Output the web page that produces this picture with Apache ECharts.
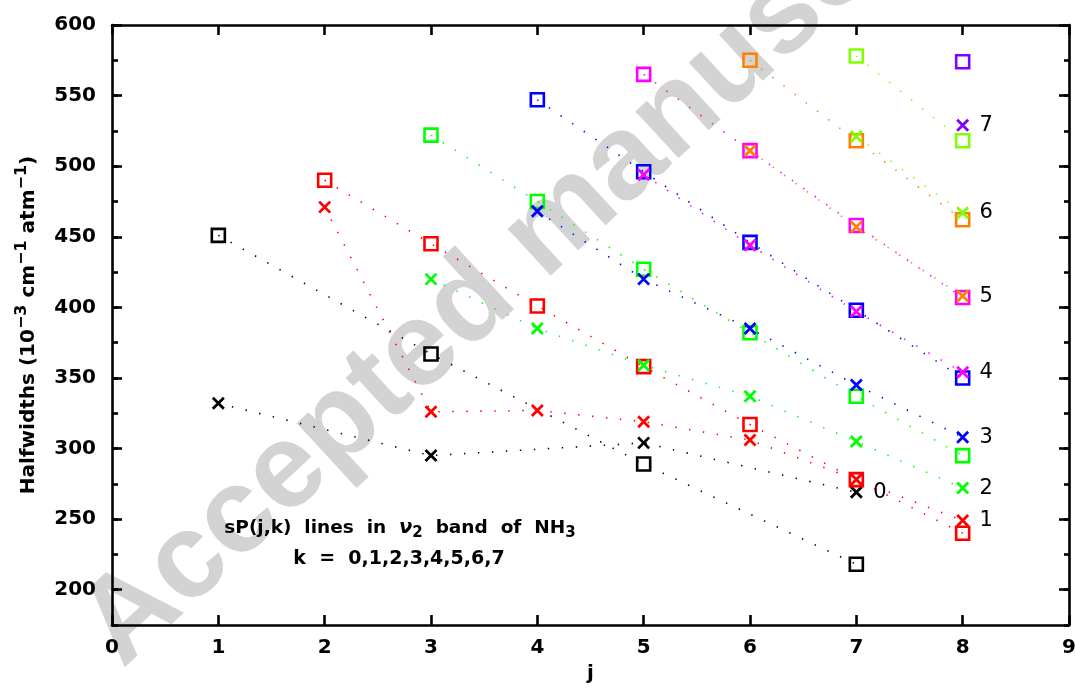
<!DOCTYPE html>
<html>
<head>
<meta charset="utf-8">
<script src="https://cdn.jsdelivr.net/npm/echarts@6/dist/echarts.min.js"></script>
<style>
  html, body { margin: 0; padding: 0; background: #ffffff; }
  #chart { width: 1075px; height: 688px; }
</style>
</head>
<body>
<div id="chart"></div>
<script>
// Halfwidths (1e-3 cm-1 atm-1) of sP(j,k) lines, nu2 band of NH3.
// Each pair is [j, halfwidth]; "box" points are drawn as squares, "cross" points as x marks.
const boxK0   = [[1, 451], [3, 367], [5, 289], [7, 218]];
const crossK0 = [[1, 332], [3, 295], [5, 304], [7, 269]];
const boxK1   = [[2, 490], [3, 445], [4, 401], [5, 358], [6, 317], [7, 278], [8, 240]];
const crossK1 = [[2, 471], [3, 326], [4, 327], [5, 319], [6, 306], [7, 278], [8, 249]];
const boxK2   = [[3, 522], [4, 475], [5, 427], [6, 382], [7, 337], [8, 295]];
const crossK2 = [[3, 420], [4, 385], [5, 359], [6, 337], [7, 305], [8, 272]];
const boxK3   = [[4, 547], [5, 496], [6, 446], [7, 398], [8, 350]];
const crossK3 = [[4, 468], [5, 420], [6, 385], [7, 345], [8, 308]];
const boxK4   = [[5, 565], [6, 511], [7, 458], [8, 407]];
const crossK4 = [[5, 494], [6, 444], [7, 397], [8, 354]];
const boxK5   = [[6, 575], [7, 518], [8, 462]];
const crossK5 = [[6, 511], [7, 457], [8, 408]];
const boxK6   = [[7, 578], [8, 518]];
const crossK6 = [[7, 521], [8, 467]];
const boxK7   = [[8, 574]];
const crossK7 = [[8, 529]];

const kLabels = ['0', '1', '2', '3', '4', '5', '6', '7'];
const yMajorTicks = [200, 250, 300, 350, 400, 450, 500, 550, 600];

const boxSets = [boxK0, boxK1, boxK2, boxK3, boxK4, boxK5, boxK6, boxK7];
const crossSets = [crossK0, crossK1, crossK2, crossK3, crossK4, crossK5, crossK6, crossK7];

// one colour per k
const kColors = ['#000000', '#ff0000', '#00ff00', '#0000ff', '#ff00ff', '#ff8000', '#80ff00', '#8000ff'];

const FONT = '"DejaVu Sans", sans-serif';
const CROSS = 'path://M0 0L10 10M10 0L0 10';

function dotted(color) {
  return { color: color, width: 1.6, type: [1.4, 12.6] };
}

const series = [];
kLabels.forEach(function (k, i) {
  const c = kColors[i];
  series.push({
    type: 'line',
    name: 'box k=' + k,
    data: boxSets[i],
    symbol: 'rect',
    symbolSize: 13,
    showAllSymbol: true,
    lineStyle: dotted(c),
    itemStyle: { color: 'rgba(0,0,0,0)', borderColor: c, borderWidth: 2.6 },
    emphasis: { disabled: true },
    z: 2 + i * 2
  });
  const crosses = crossSets[i];
  series.push({
    type: 'line',
    name: 'cross k=' + k,
    data: crosses,
    symbol: CROSS,
    symbolSize: 11,
    showAllSymbol: true,
    lineStyle: dotted(c),
    itemStyle: { color: 'rgba(0,0,0,0)', borderColor: c, borderWidth: 2.8 },
    label: {
      show: true,
      position: 'right',
      distance: 10,
      color: '#000',
      fontFamily: FONT,
      fontSize: 21,
      formatter: function (p) { return p.dataIndex === crosses.length - 1 ? k : ''; }
    },
    emphasis: { disabled: true },
    z: 3 + i * 2
  });
});

const axisLine = { show: true, onZero: false, lineStyle: { color: '#000', width: 2.6 } };
const tickStyle = { color: '#000', width: 2.6 };
const labelFont = { color: '#000', fontFamily: FONT, fontSize: 20, fontWeight: 'bold' };

const option = {
  animation: false,
  backgroundColor: '#ffffff',
  grid: { left: 112, right: 6, top: 25, bottom: 63, containLabel: false, outerBoundsMode: 'none' },
  xAxis: [
    {
      type: 'value', position: 'bottom', min: 0, max: 9, interval: 1,
      axisLine: axisLine,
      axisTick: { show: true, inside: true, length: 10, lineStyle: tickStyle },
      axisLabel: Object.assign({ margin: 13 }, labelFont),
      splitLine: { show: false },
      name: 'j', nameLocation: 'middle', nameGap: 39,
      nameTextStyle: { color: '#000', fontFamily: FONT, fontSize: 20, fontWeight: 'bold' }
    },
    {
      type: 'value', position: 'top', min: 0, max: 9, interval: 1,
      axisLine: axisLine,
      axisTick: { show: true, inside: true, length: 10, lineStyle: tickStyle },
      axisLabel: { show: false },
      splitLine: { show: false }
    }
  ],
  yAxis: [
    {
      type: 'value', position: 'left', min: 175, max: 600, interval: 25,
      axisLine: axisLine,
      axisTick: { show: true, inside: true, length: 10, lineStyle: tickStyle, customValues: yMajorTicks },
      axisLabel: Object.assign({ margin: 16, customValues: yMajorTicks }, labelFont),
      splitLine: { show: false },
      name: 'Halfwidths ({n|10}{sup|\u22123}{n| cm}{sup|\u22121}{n| atm}{sup|\u22121}{n|)}',
      nameLocation: 'middle', nameRotate: 90, nameGap: 68,
      nameTextStyle: {
        color: '#000', fontFamily: FONT, fontSize: 20, fontWeight: 'bold', lineHeight: 30,
        rich: {
          n: { color: '#000', fontFamily: FONT, fontSize: 20, fontWeight: 'bold', lineHeight: 30 },
          sup: { color: '#000', fontFamily: FONT, fontSize: 16, fontWeight: 'bold', lineHeight: 16, verticalAlign: 'top' }
        }
      }
    },
    {
      type: 'value', position: 'left', min: 175, max: 600, interval: 25,
      axisLine: { show: false, onZero: false },
      axisTick: { show: true, inside: true, length: 6, lineStyle: tickStyle },
      axisLabel: { show: false },
      splitLine: { show: false }
    },
    {
      type: 'value', position: 'right', min: 175, max: 600, interval: 25,
      axisLine: axisLine,
      axisTick: { show: true, inside: true, length: 10, lineStyle: tickStyle, customValues: yMajorTicks },
      axisLabel: { show: false },
      splitLine: { show: false }
    },
    {
      type: 'value', position: 'right', min: 175, max: 600, interval: 25,
      axisLine: { show: false, onZero: false },
      axisTick: { show: true, inside: true, length: 5, lineStyle: tickStyle },
      axisLabel: { show: false },
      splitLine: { show: false }
    }
  ],
  graphic: {
    elements: [
      {
        // faint diagonal stamp behind the plot
        type: 'text', z: -10, silent: true,
        x: 100, y: 645, rotation: 42.6 * Math.PI / 180,
        style: {
          text: 'Accepted manuscript',
          fontFamily: '"Liberation Sans", Arial, sans-serif', fontWeight: 'bold', fontSize: 120,
          fill: '#d3d3d3', align: 'left', verticalAlign: 'middle'
        }
      },
      {
        type: 'text', z: 50, silent: true,
        x: 400, y: 528,
        style: {
          text: 'sP(j,k)  lines  in  {nu|\u03bd}{sub|2}  band  of  NH{sub|3}',
          fontFamily: FONT, fontSize: 18.5, fontWeight: 'bold', fill: '#000',
          align: 'center', verticalAlign: 'middle', lineHeight: 26,
          rich: {
            nu: { fontFamily: FONT, fontSize: 19.5, fontWeight: 'bold', fontStyle: 'italic', fill: '#000', lineHeight: 26 },
            sub: { fontFamily: FONT, fontSize: 15, fontWeight: 'bold', fill: '#000', lineHeight: 14, verticalAlign: 'bottom' }
          }
        }
      },
      {
        type: 'text', z: 50, silent: true,
        x: 399, y: 559,
        style: {
          text: 'k  =  0,1,2,3,4,5,6,7',
          fontFamily: FONT, fontSize: 19, fontWeight: 'bold', fill: '#000',
          align: 'center', verticalAlign: 'middle'
        }
      }
    ]
  },
  series: series
};

const chart = echarts.init(document.getElementById('chart'), null, { renderer: 'canvas' });
chart.setOption(option);
</script>
</body>
</html>
